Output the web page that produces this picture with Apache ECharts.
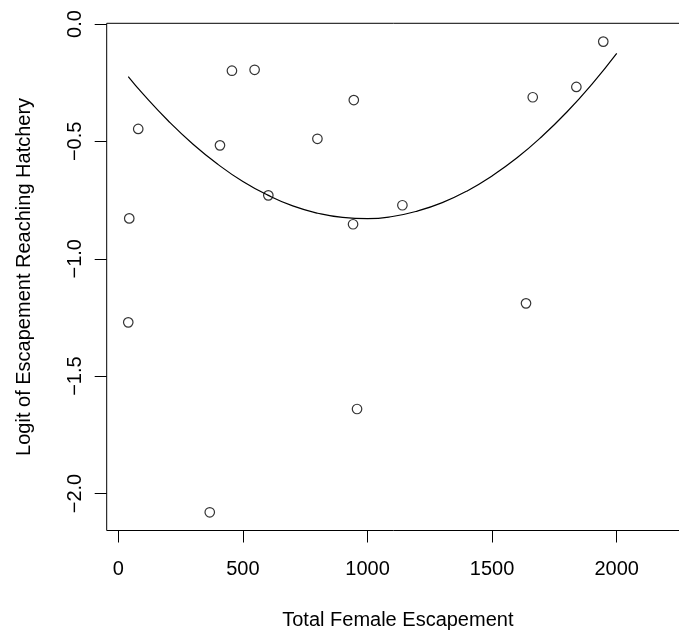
<!DOCTYPE html>
<html>
<head>
<meta charset="utf-8">
<script src="https://cdn.jsdelivr.net/npm/echarts@6/dist/echarts.min.js"></script>
<style>
html,body{margin:0;padding:0;background:#fff;}
#chart{width:679px;height:632px;}
</style>
</head>
<body>
<div id="chart"></div>
<script>
// Observed points (Total Female Escapement, logit of escapement reaching hatchery)
var escapement = [40, 44, 80, 367, 408, 456, 547, 602, 799, 942, 945, 958, 1140, 1636, 1663, 1838, 1946];
var logitHatchery = [-1.271, -0.828, -0.447, -2.080, -0.517, -0.199, -0.195, -0.730, -0.489, -0.853, -0.324, -1.640, -0.772, -1.190, -0.312, -0.268, -0.075];

// Fitted curve
var curveX = [40, 100, 200, 300, 400, 500, 600, 700, 800, 900, 1000, 1100, 1200, 1300, 1400, 1500, 1600, 1700, 1800, 1900, 2000];
var curveY = [-0.224, -0.299, -0.412, -0.512, -0.598, -0.671, -0.729, -0.775, -0.806, -0.824, -0.829, -0.820, -0.797, -0.761, -0.711, -0.647, -0.570, -0.479, -0.375, -0.257, -0.125];

// Tick values
var xTicks = [0, 500, 1000, 1500, 2000];
var yTicks = [-2.0, -1.5, -1.0, -0.5, 0.0];

var FONT = '"Liberation Sans", Arial, sans-serif';
var FS = 20;

function fmtY(v) {
  var s = Number(v).toFixed(1);
  return s.replace('-', '\u2212');
}

var chart = echarts.init(document.getElementById('chart'), null, {renderer: 'canvas'});
chart.setOption({
  animation: false,
  backgroundColor: '#ffffff',
  grid: {
    left: 106.7, top: 23.3, width: 582.3, height: 507.2,
    outerBoundsMode: 'none',
    show: true, borderColor: '#000', borderWidth: 1, backgroundColor: 'transparent',
    containLabel: false
  },
  xAxis: {
    type: 'value',
    min: -46.5, max: 2290,
    name: 'Total Female Escapement',
    nameLocation: 'middle',
    nameGap: 80,
    nameTextStyle: {fontFamily: FONT, fontSize: FS, color: '#000'},
    axisLine: {show: false, onZero: false},
    splitLine: {show: false},
    axisTick: {show: true, inside: false, length: 12, customValues: xTicks, lineStyle: {color: '#000', width: 1}},
    axisLabel: {show: true, customValues: xTicks, margin: 29, fontFamily: FONT, fontSize: FS, color: '#000',
      formatter: function (v) { return String(v); }}
  },
  yAxis: {
    type: 'value',
    min: -2.1576, max: 0.003,
    name: 'Logit of Escapement Reaching Hatchery',
    nameLocation: 'middle',
    nameGap: 72,
    nameTextStyle: {fontFamily: FONT, fontSize: FS, color: '#000'},
    axisLine: {show: false, onZero: false},
    splitLine: {show: false},
    axisTick: {show: true, inside: false, length: 12, customValues: yTicks, lineStyle: {color: '#000', width: 1}},
    axisLabel: {show: true, customValues: yTicks, rotate: 90, margin: 21, fontFamily: FONT, fontSize: FS, color: '#000',
      formatter: fmtY}
  },
  series: [
    {
      type: 'line',
      data: curveX.map(function (x, i) { return [x, curveY[i]]; }),
      smooth: true,
      showSymbol: false,
      symbol: 'none',
      lineStyle: {color: '#000', width: 1.2},
      z: 2
    },
    {
      type: 'scatter',
      data: escapement.map(function (x, i) { return [x, logitHatchery[i]]; }),
      symbol: 'circle',
      symbolSize: 9.5,
      itemStyle: {color: 'rgba(255,255,255,0)', borderColor: '#000', borderWidth: 1.2},
      z: 3
    }
  ]
});
</script>
</body>
</html>
